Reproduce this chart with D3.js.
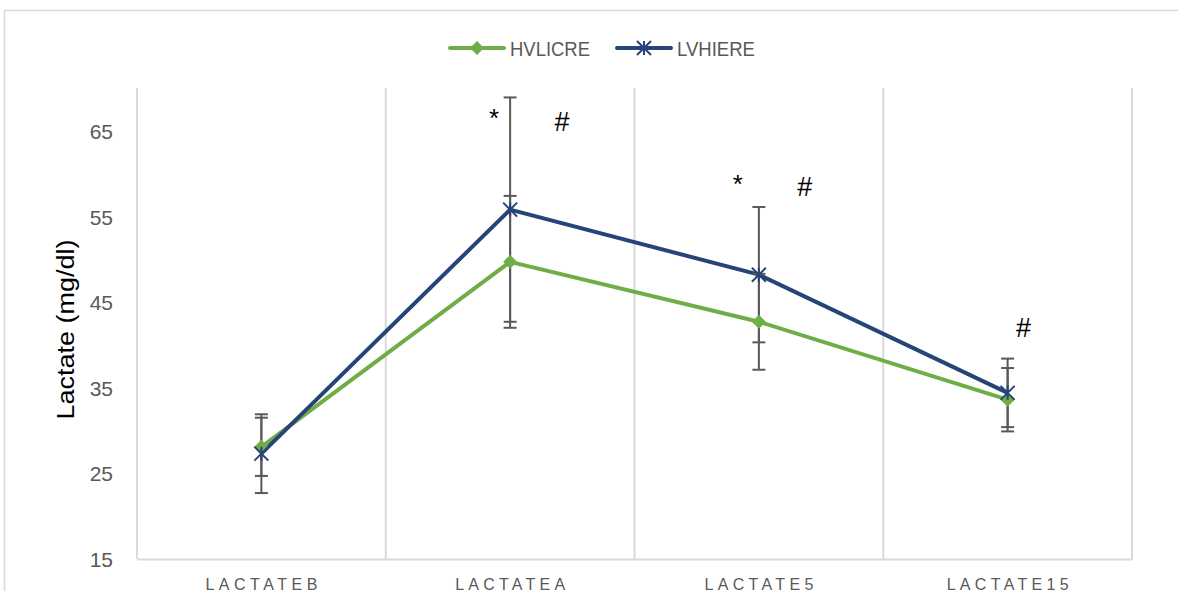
<!DOCTYPE html>
<html>
<head>
<meta charset="utf-8">
<script src="https://cdn.jsdelivr.net/npm/d3@7"></script>
<style>
  html, body { margin: 0; padding: 0; background: #fff; }
  svg { display: block; }
</style>
</head>
<body>
<svg id="chart" width="1178" height="591"></svg>
<script>
// ---- data ----
const categories = ["LACTATEB", "LACTATEA", "LACTATE5", "LACTATE15"];
const seriesNames = ["HVLICRE", "LVHIERE"];
const hvlicre = [28.1, 49.7, 42.7, 33.6];
const hvlicreErr = [3.4, 7.7, 5.6, 3.7];
const lvhiere = [27.3, 55.8, 48.2, 34.4];
const lvhiereErr = [4.6, 13.1, 7.9, 4.0];
const yTicks = [15, 25, 35, 45, 55, 65];
const yTitle = "Lactate (mg/dl)";
const annotCategories = ["LACTATEA", "LACTATEA", "LACTATE5", "LACTATE5", "LACTATE15"];
const annotSymbols = ["*", "#", "*", "#", "#"];
const annotValues = [65.4, 65.0, 57.7, 57.4, 40.9];

// ---- layout ----
const W = 1178, H = 591;
const plot = { left: 137, right: 1132, top: 88, bottom: 559 };
const annotDx = [-16, 52, -21, 46, 16];
const xLabelWidths = [112, 110, 109, 122];
const colors = { HVLICRE: "#70ad47", LVHIERE: "#264478" };

const svg = d3.select("#chart");

// outer chart border
svg.append("rect")
  .attr("x", 4.5).attr("y", 10.5)
  .attr("width", W + 10).attr("height", H + 10)
  .attr("fill", "none").attr("stroke", "#d9d9d9").attr("stroke-width", 1.5);

const x = d3.scaleBand().domain(categories).range([plot.left, plot.right]).paddingInner(0).paddingOuter(0);
const y = d3.scaleLinear().domain([15, 70]).range([plot.bottom, plot.top]);
const cx = c => x(c) + x.bandwidth() / 2;

// vertical gridlines at category boundaries
const bounds = categories.map(c => x(c)).concat([x(categories[categories.length - 1]) + x.bandwidth()]);
svg.append("g").selectAll("line").data(bounds).join("line")
  .attr("x1", d => d).attr("x2", d => d)
  .attr("y1", y(70)).attr("y2", y(15))
  .attr("stroke", "#d9d9d9").attr("stroke-width", 2);

// x axis line + labels
const xAxis = d3.axisBottom(x).tickSize(0).tickPadding(0);
const gx = svg.append("g").attr("transform", `translate(0,${y(15)})`).call(xAxis);
gx.select(".domain").attr("stroke", "#d9d9d9").attr("stroke-width", 2);
gx.selectAll(".tick text")
  .attr("y", 31)
  .attr("dy", 0)
  .attr("fill", "#595959")
  .attr("font-family", "Liberation Sans, Arial, sans-serif")
  .attr("font-size", 16)
  .attr("textLength", (d, i) => xLabelWidths[i])
  .attr("lengthAdjust", "spacing");

// y axis labels
const yAxis = d3.axisLeft(y).tickValues(yTicks).tickSize(0).tickPadding(0);
const gy = svg.append("g").attr("transform", `translate(113,0)`).call(yAxis);
gy.select(".domain").remove();
gy.selectAll(".tick text")
  .attr("x", 0)
  .attr("dy", "0.36em")
  .attr("fill", "#595959")
  .attr("font-family", "Liberation Sans, Arial, sans-serif")
  .attr("font-size", 21);

// y title
svg.append("text")
  .attr("transform", `translate(74,${(plot.top + plot.bottom) / 2 + 6}) rotate(-90)`)
  .attr("text-anchor", "middle")
  .attr("font-family", "Liberation Sans, Arial, sans-serif")
  .attr("font-size", 23)
  .attr("fill", "#000")
  .attr("textLength", 180)
  .attr("lengthAdjust", "spacingAndGlyphs")
  .text(yTitle);

const series = [
  { name: seriesNames[0], values: hvlicre, errs: hvlicreErr, marker: "diamond" },
  { name: seriesNames[1], values: lvhiere, errs: lvhiereErr, marker: "star" }
];

// lines
const line = d3.line().x(d => cx(d.c)).y(d => y(d.v));
series.forEach(s => {
  const pts = categories.map((c, i) => ({ c, v: s.values[i] }));
  svg.append("path").datum(pts)
    .attr("d", line)
    .attr("fill", "none")
    .attr("stroke", colors[s.name])
    .attr("stroke-width", 4)
    .attr("stroke-linejoin", "round");
});

// error bars
const capW = 13;
series.forEach(s => {
  const g = svg.append("g").attr("stroke", "#595959").attr("stroke-width", 2);
  categories.forEach((c, i) => {
    const v = s.values[i], e = s.errs[i];
    const xx = cx(c);
    g.append("line").attr("x1", xx).attr("x2", xx).attr("y1", y(v + e)).attr("y2", y(v - e));
    [v + e, v - e].forEach(t => {
      g.append("line").attr("x1", xx - capW / 2).attr("x2", xx + capW / 2)
        .attr("y1", y(t)).attr("y2", y(t));
    });
  });
});

// markers
function drawMarker(g, type, px, py, color, size) {
  if (type === "diamond") {
    g.append("path")
      .attr("d", `M${px},${py - size}L${px + size},${py}L${px},${py + size}L${px - size},${py}Z`)
      .attr("fill", color);
  } else {
    const s = size;
    g.append("path")
      .attr("d", `M${px - s},${py - s}L${px + s},${py + s}M${px - s},${py + s}L${px + s},${py - s}M${px},${py - s}L${px},${py + s}`)
      .attr("stroke", color).attr("stroke-width", 2).attr("fill", "none");
  }
}
series.forEach(s => {
  const g = svg.append("g");
  categories.forEach((c, i) => {
    drawMarker(g, s.marker, cx(c), y(s.values[i]), colors[s.name], 7);
  });
});

// annotations
svg.append("g").selectAll("text").data(annotSymbols).join("text")
  .attr("x", (d, i) => cx(annotCategories[i]) + annotDx[i])
  .attr("y", (d, i) => y(annotValues[i]))
  .attr("text-anchor", "middle")
  .attr("font-family", "Liberation Sans, Arial, sans-serif")
  .attr("font-size", (d) => d === "#" ? 27 : 26)
  .attr("fill", "#000")
  .text(d => d);

// legend
const legend = svg.append("g");
const legendItems = [
  { name: seriesNames[0], x0: 450, marker: "diamond", textLen: 80 },
  { name: seriesNames[1], x0: 617, marker: "star", textLen: 78 }
];
const ly = 48;
legendItems.forEach(it => {
  legend.append("line")
    .attr("x1", it.x0).attr("x2", it.x0 + 54)
    .attr("y1", ly).attr("y2", ly)
    .attr("stroke", colors[it.name]).attr("stroke-width", 4).attr("stroke-linecap", "round");
  drawMarker(legend, it.marker, it.x0 + 27, ly, colors[it.name], 7);
  legend.append("text")
    .attr("x", it.x0 + 60).attr("y", ly + 7.5)
    .attr("font-family", "Liberation Sans, Arial, sans-serif")
    .attr("font-size", 21)
    .attr("fill", "#595959")
    .attr("textLength", it.textLen)
    .attr("lengthAdjust", "spacingAndGlyphs")
    .text(it.name);
});
</script>
</body>
</html>
